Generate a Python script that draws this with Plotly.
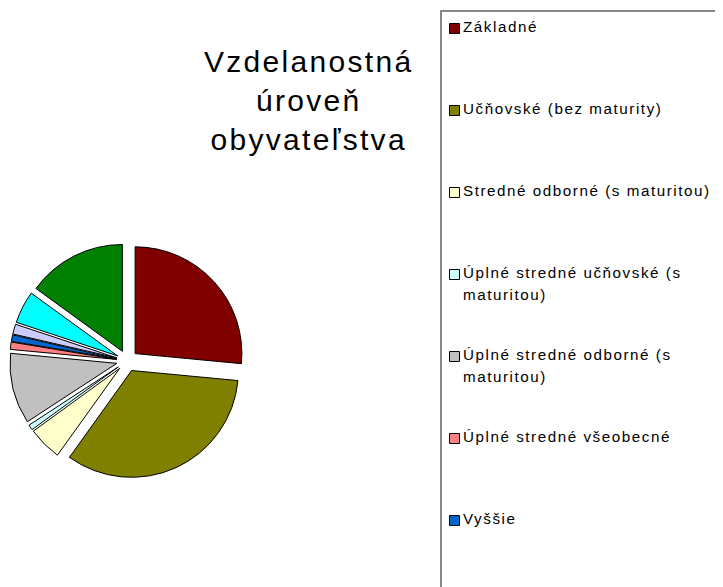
import textwrap
import plotly.graph_objects as go

# ---- data (percent of population) ----
categories = [
    "Základné",
    "Učňovské (bez maturity)",
    "Stredné odborné (s maturitou)",
    "Úplné stredné učňovské (s maturitou)",
    "Úplné stredné odborné (s maturitou)",
    "Úplné stredné všeobecné",
    "Vyššie",
    "Vysokoškolské bakalárske",
    "Vysokoškolské",
    "Bez školského vzdelania",
]
values = [26.5, 33.4, 5.1, 0.8, 10.7, 1.1, 1.0, 1.5, 4.9, 15.0]
colors = ["#800000", "#808000", "#FFFFCC", "#CCFFFF", "#C0C0C0",
          "#FF8080", "#0066CC", "#CCCCFF", "#00FFFF", "#008000"]
title_lines = ["Vzdelanostná", "úroveň", "obyvateľstva"]
legend_shown = 7  # entries visible inside the (clipped) legend box

# the page body adds an 8px margin; size the figure to the visible window
OFF = 8
W, H = 723 - OFF, 587 - OFF
FONT = "Liberation Sans, Arial, sans-serif"


def px(x):  # screen x -> paper x
    return (x - OFF) / W


def py(y):  # screen y -> paper y
    return 1 - (y - OFF) / H


def spaced(s, ls, size=None):
    fs = f"font-size:{size}px;" if size else ""
    return f"<span style='{fs}letter-spacing:{ls}px'>{s}</span>"


# pie geometry in screen pixels
cx, cy, r, pull = 127.2, 360.8, 106.8, 0.1
half = r * (1 + pull)

fig = go.Figure(
    go.Pie(
        labels=categories,
        values=values,
        sort=False,
        direction="clockwise",
        rotation=0,
        pull=[pull] * len(values),
        marker=dict(colors=colors, line=dict(color="black", width=1)),
        textinfo="none",
        hoverinfo="label+percent",
        showlegend=False,
        domain=dict(x=[px(cx - half), px(cx + half)],
                    y=[py(cy + half), py(cy - half)]),
    )
)

# title
fig.add_annotation(
    text="<br>".join(spaced(t, 2.3) for t in title_lines),
    x=px(308), y=py(43), xref="paper", yref="paper",
    xanchor="center", yanchor="top", align="center", showarrow=False,
    font=dict(family=FONT, size=30, color="black"),
)

# legend box (extends past the right and bottom edges, as in the reference)
fig.add_shape(type="rect", xref="paper", yref="paper",
              x0=px(441), x1=px(780), y0=py(11), y1=py(660),
              line=dict(color="#606060", width=1.5), fillcolor="rgba(0,0,0,0)",
              layer="above")

# legend entries
first_y, pitch, line_h = 28.5, 82, 17 * 1.3
for i in range(legend_shown):
    yc = first_y + i * pitch
    fig.add_shape(type="rect", xref="paper", yref="paper",
                  x0=px(449.5), x1=px(459.5), y0=py(yc + 5), y1=py(yc - 5),
                  line=dict(color="black", width=1), fillcolor=colors[i],
                  layer="above")
    lines = textwrap.wrap(categories[i], 29)
    fig.add_annotation(
        text="<br>".join(spaced(l, 1.55, 15.2) for l in lines),
        x=px(462), y=py(yc - line_h / 2), xref="paper", yref="paper",
        xanchor="left", yanchor="top", align="left", showarrow=False,
        borderpad=0,
        font=dict(family=FONT, size=17, color="black"),
    )

fig.update_layout(
    width=W, height=H,
    margin=dict(l=0, r=0, t=0, b=0, pad=0),
    paper_bgcolor="white",
    plot_bgcolor="white",
    showlegend=False,
)

fig.write_html("out.html")
